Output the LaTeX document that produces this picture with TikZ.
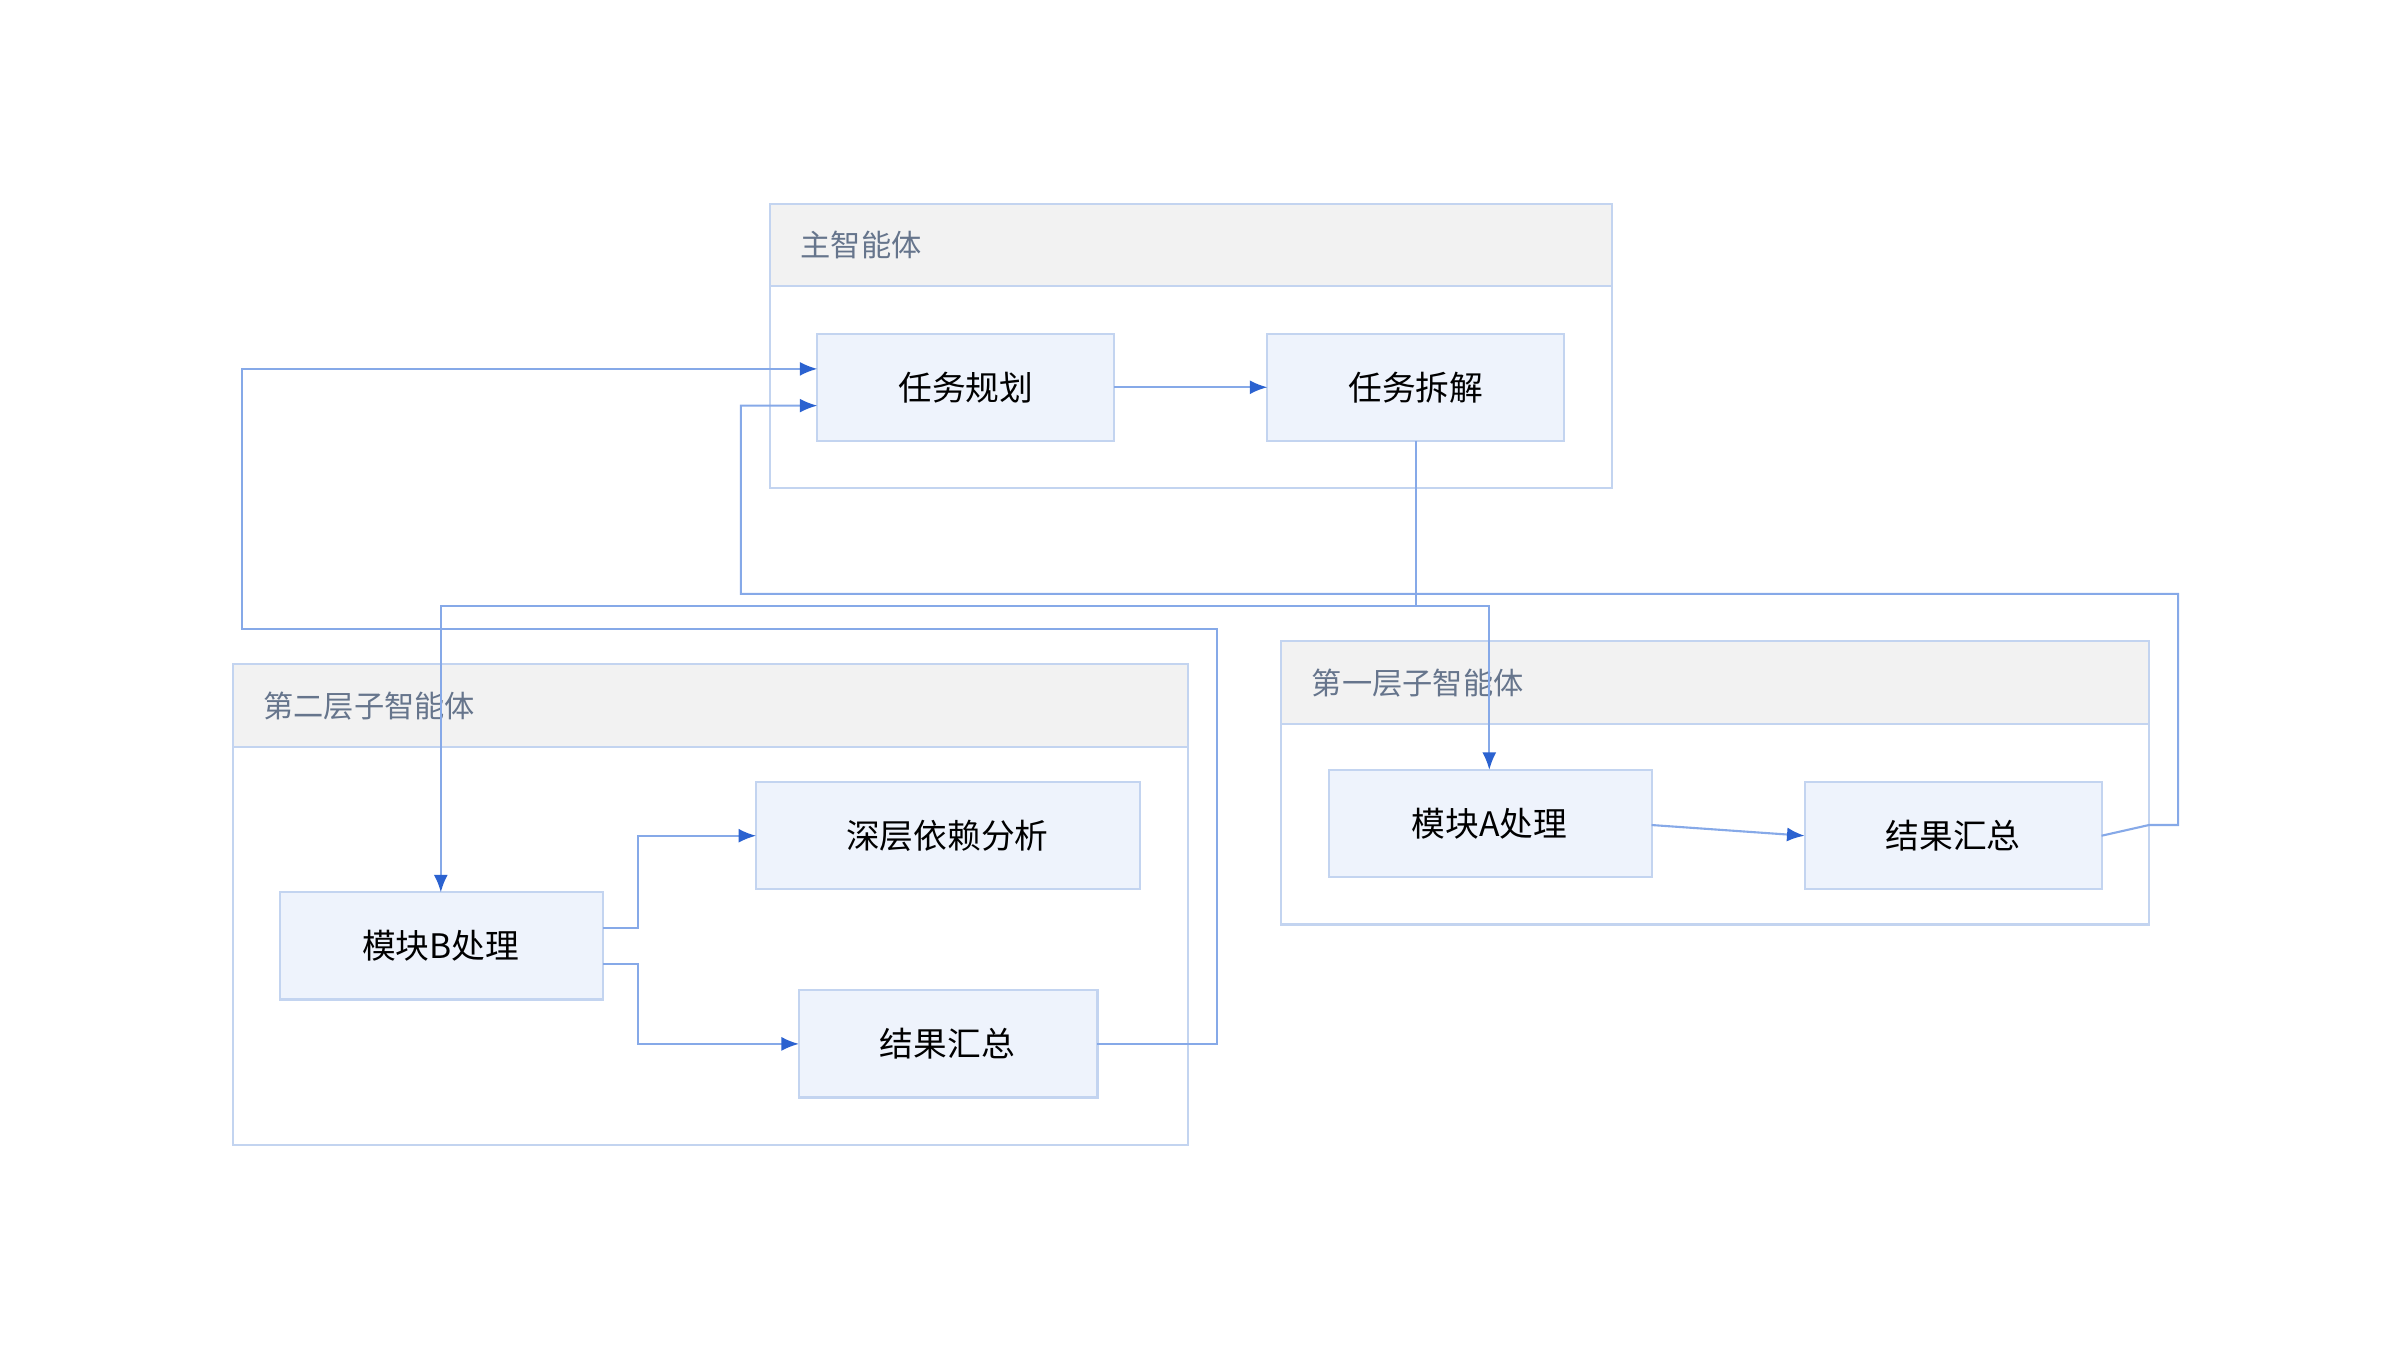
\documentclass[tikz,border=0pt]{standalone}
\usepackage{fontspec}
\setmainfont{Noto Sans CJK SC}
\usetikzlibrary{arrows.meta}
\definecolor{boxfill}{HTML}{EEF3FC}
\definecolor{boxline}{HTML}{C3D4F0}
\definecolor{edgeline}{HTML}{86A9E8}
\definecolor{tipcol}{HTML}{2B62D0}
\definecolor{headfill}{HTML}{F2F2F2}
\definecolor{headtext}{HTML}{66758C}
\tikzset{
  task/.style={draw=boxline, fill=boxfill, line width=0.6pt},
  grp/.style={draw=boxline, fill=white, line width=0.6pt},
  hdr/.style={draw=boxline, fill=headfill, line width=0.6pt},
  lbl/.style={font=\fontsize{9.6}{11}\selectfont, text=black},
  ttl/.style={font=\fontsize{8.6}{10}\selectfont, text=headtext, anchor=west},
  flow/.style={draw=edgeline, line width=0.6pt, -{Latex[length=5pt,width=4pt,color=tipcol]}},
  link/.style={draw=edgeline, line width=0.6pt}
}
\begin{document}
\begin{tikzpicture}[x=0.015306cm, y=-0.015306cm]
\useasboundingbox (0,0) rectangle (1568,882);

%groups
\draw[grp] (503,133) rectangle (1053,319);
\draw[hdr] (503,133) rectangle (1053,187);
\node[ttl] (gMain) at (515,160) {主智能体};
\draw[grp] (152,434) rectangle (776,748);
\draw[hdr] (152,434) rectangle (776,488);
\node[ttl] (gTwo) at (164,461) {第二层子智能体};
\draw[grp] (837,419) rectangle (1404,604);
\draw[hdr] (837,419) rectangle (1404,473);
\node[ttl] (gOne) at (849,446) {第一层子智能体};

%tasks
\draw[task] (534,218) rectangle (728,288);  \node[lbl] (plan)  at (631,253) {任务规划};
\draw[task] (828,218) rectangle (1022,288); \node[lbl] (split) at (925,253) {任务拆解};
\draw[task] (868,503) rectangle (1079,573); \node[lbl] (modA)  at (973,538) {模块A处理};
\draw[task] (1179,511) rectangle (1373,581);\node[lbl] (sumA)  at (1276,546) {结果汇总};
\draw[task] (183,583) rectangle (394,653);  \node[lbl] (modB)  at (288,618) {模块B处理};
\draw[task] (494,511) rectangle (745,581);  \node[lbl] (deep)  at (619,546) {深层依赖分析};
\draw[task] (522,647) rectangle (717,717);  \node[lbl] (sumB)  at (619,682) {结果汇总};

\coordinate (split-s) at (925,288);
\coordinate (fork)    at (925,396);

%edges
\draw[flow] (728,253) -- (828,253);
\draw[link] (split-s) -- (fork);
\draw[flow] (fork) -- (973,396) -- (973,503);
\draw[flow] (fork) -- (288,396) -- (288,583);
\draw[flow] (1079,539) -- (1179,546);
\draw[flow] (1373,546) -- (1404,539) -- (1423,539) -- (1423,388) -- (484,388) -- (484,265) -- (534,265);
\draw[flow] (717,682) -- (795,682) -- (795,411) -- (158,411) -- (158,241) -- (534,241);
\draw[flow] (394,606) -- (417,606) -- (417,546) -- (494,546);
\draw[flow] (394,630) -- (417,630) -- (417,682) -- (522,682);
\end{tikzpicture}
\end{document}
